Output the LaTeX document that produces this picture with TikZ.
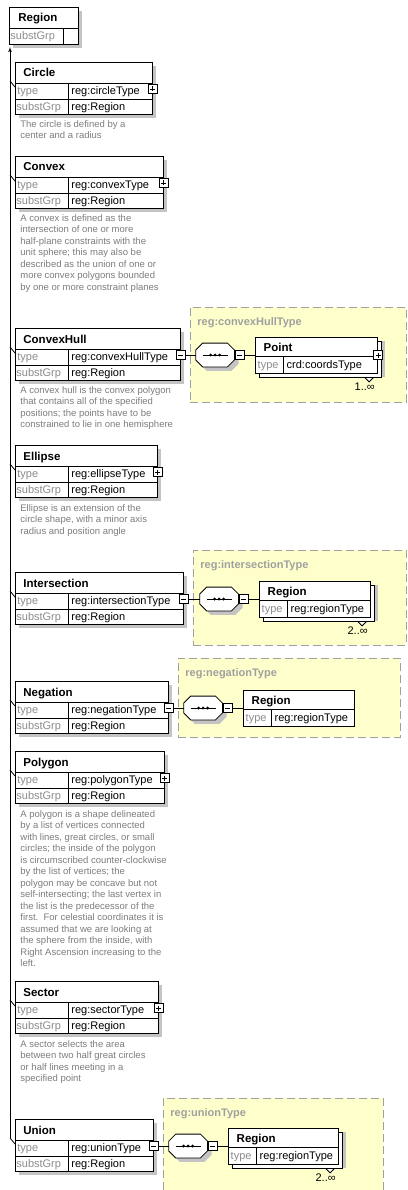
\documentclass[tikz,border=0pt]{standalone}
\usepackage{fontspec}
\setmainfont{Liberation Sans}
\usetikzlibrary{positioning}
\usetikzlibrary{arrows}
\definecolor{keygray}{HTML}{8C8C8C}
\definecolor{descgray}{HTML}{7C7C7C}
\definecolor{shadegray}{HTML}{C4C4C4}
\definecolor{grpyellow}{HTML}{FFFFCC}
\definecolor{grpgray}{HTML}{A0A0A0}
\tikzstyle{elembox} = [draw, rectangle, fill=white, anchor=north west, inner sep=0, minimum height=52]
\tikzstyle{kidbox} = [draw, rectangle, fill=white, anchor=west, inner sep=0, minimum height=36]
\tikzstyle{boxtitle} = [anchor=base west, inner sep=0, font=\fontsize{11.5}{13}\selectfont\bfseries]
\tikzstyle{rowkey} = [anchor=base west, inner sep=0, text=keygray, font=\fontsize{11}{13}\selectfont]
\tikzstyle{rowval} = [anchor=base west, inner sep=0, font=\fontsize{11}{13}\selectfont]
\tikzstyle{descr} = [align=left, inner sep=0, text=descgray, font=\fontsize{9.5}{11.5}\selectfont]
\tikzstyle{grpbox} = [draw=grpgray, fill=grpyellow, dash pattern=on 8pt off 4pt, anchor=north west, inner sep=0]
\tikzstyle{grplabel} = [anchor=base west, inner sep=0, text=grpgray, font=\fontsize{11}{13}\selectfont\bfseries]
\tikzstyle{multlabel} = [anchor=base east, inner sep=0, font=\fontsize{11}{13}\selectfont]
\tikzstyle{minusbox} = [draw, fill=white, minimum size=9, inner sep=0, path picture={
    \draw ([xshift=2pt]path picture bounding box.west) -- ([xshift=-2pt]path picture bounding box.east);}]
\tikzstyle{plusbox} = [draw, fill=white, minimum size=9, inner sep=0, path picture={
    \draw ([xshift=2pt]path picture bounding box.west) -- ([xshift=-2pt]path picture bounding box.east);
    \draw ([yshift=-2pt]path picture bounding box.north) -- ([yshift=2pt]path picture bounding box.south);}]
\tikzstyle{seqbox} = [rectangle, inner sep=0, minimum width=38, minimum height=23]
\tikzstyle{seqshade} = [fill=shadegray, transform canvas={shift={(4pt,-4pt)}}]
\tikzstyle{seqline} = [draw, fill=white]

% element of the substitution group: id, title, top, width, type, sign
\newcommand{\regelem}[6]{%
  \fill[shadegray] (19,#3+4) rectangle ++(#4,52);
  \node[elembox, minimum width=#4] (#1) at (15,#3) {};
  \draw ([yshift=-21pt]#1.north west) coordinate (#1-a) -- ([yshift=-21pt]#1.north east);
  \draw ([yshift=-16pt]#1-a) coordinate (#1-b) -- ++(#4,0);
  \draw ([xshift=53pt]#1-a) -- ([xshift=53pt]#1.south west);
  \node[boxtitle] (#1-ttl) at ([xshift=8pt,yshift=-15pt]#1.north west) {#2};
  \node[rowkey] (#1-tk) at ([xshift=2pt,yshift=-11.5pt]#1-a) {type};
  \node[rowval] (#1-tv) at ([xshift=56pt,yshift=-11.5pt]#1-a) {#5};
  \node[rowkey] (#1-sk) at ([xshift=1pt,yshift=-11.5pt]#1-b) {substGrp};
  \node[rowval] (#1-sv) at ([xshift=56pt,yshift=-11.5pt]#1-b) {reg:Region};
  \node[#6] (#1-sgn) at ([yshift=-27pt]#1.north east) {};
  \path (#1-a) ++(-5,-2) coordinate (#1-j);
  \draw (#1-j) -- ([yshift=-4pt]#1-a);
}
% sequence compositor drawn round the node #1
\newcommand{\regseq}[1]{%
  \foreach \s in {seqshade, seqline}
    \path[\s] ([xshift=7pt]#1.north west) -- ([xshift=-7pt]#1.north east) -- ([yshift=-7pt]#1.north east)
      -- ([yshift=7pt]#1.south east) -- ([xshift=-7pt]#1.south east) -- ([xshift=7pt]#1.south west)
      -- ([yshift=7pt]#1.south west) -- ([yshift=-7pt]#1.north west) -- cycle;
  \draw[line width=1pt] ([xshift=7pt]#1.west) -- ([xshift=-7pt]#1.east);
  \foreach \d in {-4.5,0,4.5} \fill ([xshift=\d pt]#1.center) circle (1.6pt);
}
% child element of a type: id, title, type, width (west at #1-w)
\newcommand{\regkid}[4]{%
  \node[kidbox, minimum width=#4] (#1) at (#1-w) {};
  \draw ([yshift=-20pt]#1.north west) coordinate (#1-a) -- ([yshift=-20pt]#1.north east);
  \draw ([xshift=28pt]#1-a) -- ([xshift=28pt]#1.south west);
  \node[boxtitle] (#1-ttl) at ([xshift=8pt,yshift=-14.5pt]#1.north west) {#2};
  \node[rowkey] (#1-tk) at ([xshift=2pt,yshift=-12pt]#1-a) {type};
  \node[rowval] (#1-tv) at ([xshift=31pt,yshift=-12pt]#1-a) {#3};
}
% stacked copy behind a repeated child: id, width, occurrences
\newcommand{\regstack}[3]{%
  \fill[shadegray] (#1-w) ++(8,-14) rectangle ++(#2,36);
  \node[kidbox, minimum width=#2] (#1-bk) at ([shift={(4pt,-4pt)}]#1-w) {};
  \draw[fill=white] ([xshift=-17.5pt]#1-bk.south east) -- ++(4.5,4.5) -- ++(4.5,-4.5) -- cycle;
  \node[multlabel] (#1-m) at ([xshift=-7pt,yshift=-13pt]#1-bk.south east) {#3};
}

\begin{document}
\begin{tikzpicture}[x=1pt, y=-1pt, line width=0.8pt, >=latex']
    \useasboundingbox (0,0) rectangle (407,1190);

    % head of the group
    \fill[shadegray] (13,11) rectangle ++(69,37);
    \node[elembox, minimum width=69, minimum height=37] (region) at (9,7) {};
    \draw ([yshift=-21pt]region.north west) coordinate (region-a) -- ([yshift=-21pt]region.north east);
    \draw ([xshift=54pt]region-a) -- ([xshift=54pt]region.south west);
    \node[boxtitle] (region-ttl) at ([xshift=9pt,yshift=-15pt]region.north west) {Region};
    \node[rowkey] (region-sk) at ([xshift=1pt,yshift=-11.5pt]region-a) {substGrp};
    \coordinate (regtip) at (10,47);

    % members
    \regelem{circle}{Circle}{62}{137}{reg:circleType}{plusbox}
    \regelem{convex}{Convex}{156}{148}{reg:convexType}{plusbox}
    \regelem{hull}{ConvexHull}{328}{165}{reg:convexHullType}{minusbox}
    \regelem{ellipse}{Ellipse}{445}{142}{reg:ellipseType}{plusbox}
    \regelem{inter}{Intersection}{572}{168}{reg:intersectionType}{minusbox}
    \regelem{neg}{Negation}{681}{153}{reg:negationType}{minusbox}
    \regelem{poly}{Polygon}{751}{149}{reg:polygonType}{plusbox}
    \regelem{sector}{Sector}{981}{143}{reg:sectorType}{plusbox}
    \regelem{union}{Union}{1119}{138}{reg:unionType}{minusbox}

    \draw[->] (union-j) -- (regtip);

    \node[descr, below right=5pt and 5pt of circle.south west] (circle-d)
       {The circle is defined by a\\center and a radius};
    \node[descr, below right=5pt and 5pt of convex.south west] (convex-d)
       {A convex is defined as the\\intersection of one or more\\half-plane constraints with the\\unit sphere; this may also be\\described as the union of one or\\more convex polygons bounded\\by one or more constraint planes};
    \node[descr, below right=5pt and 5pt of hull.south west] (hull-d)
       {A convex hull is the convex polygon\\that contains all of the specified\\positions; the points have to be\\constrained to lie in one hemisphere};
    \node[descr, below right=6pt and 5pt of ellipse.south west] (ellipse-d)
       {Ellipse is an extension of the\\circle shape, with a minor axis\\radius and position angle};
    \node[descr, below right=6pt and 5pt of poly.south west] (poly-d)
       {A polygon is a shape delineated\\by a list of vertices connected\\with lines, great circles, or small\\circles; the inside of the polygon\\is circumscribed counter-clockwise\\by the list of vertices; the\\polygon may be concave but not\\self-intersecting; the last vertex in\\the list is the predecessor of the\\first.\ \ For celestial coordinates it is\\assumed that we are looking at\\the sphere from the inside, with\\Right Ascension increasing to the\\left.};
    \node[descr, below right=6pt and 5pt of sector.south west] (sector-d)
       {A sector selects the area\\between two half great circles\\or half lines meeting in a\\specified point};

    % reg:convexHullType
    \node[grpbox, minimum width=216, minimum height=95] (hullgrp) at (190,307) {};
    \node[grplabel] (hullgrp-l) at ([xshift=7pt,yshift=-18pt]hullgrp.north west) {reg:convexHullType};
    \node[seqbox, right=10pt of hull-sgn] (hullseq) {};
    \regseq{hullseq}
    \node[minusbox, right=0pt of hullseq] (hullseq-sgn) {};
    \coordinate[right=11pt of hullseq-sgn] (point-w);
    \regstack{point}{122}{1..∞}
    \regkid{point}{Point}{crd:coordsType}{122}
    \node[plusbox] (point-sgn) at (point.east) {};
    \draw (hull-sgn.east) -- (hullseq.west);
    \draw (hullseq-sgn.east) -- (point.west);

    % reg:intersectionType
    \node[grpbox, minimum width=213, minimum height=95] (intergrp) at (193,550) {};
    \node[grplabel] (intergrp-l) at ([xshift=7pt,yshift=-18pt]intergrp.north west) {reg:intersectionType};
    \node[seqbox, right=11pt of inter-sgn] (interseq) {};
    \regseq{interseq}
    \node[minusbox, right=0pt of interseq] (interseq-sgn) {};
    \coordinate[right=11pt of interseq-sgn] (interkid-w);
    \regstack{interkid}{111}{2..∞}
    \regkid{interkid}{Region}{reg:regionType}{111}
    \draw (inter-sgn.east) -- (interseq.west);
    \draw (interseq-sgn.east) -- (interkid.west);

    % reg:negationType
    \node[grpbox, minimum width=222, minimum height=79] (neggrp) at (178,658) {};
    \node[grplabel] (neggrp-l) at ([xshift=7pt,yshift=-18pt]neggrp.north west) {reg:negationType};
    \node[seqbox, right=10pt of neg-sgn] (negseq) {};
    \regseq{negseq}
    \node[minusbox, right=0pt of negseq] (negseq-sgn) {};
    \coordinate[right=11pt of negseq-sgn] (negkid-w);
    \regkid{negkid}{Region}{reg:regionType}{111}
    \draw (neg-sgn.east) -- (negseq.west);
    \draw (negseq-sgn.east) -- (negkid.west);

    % reg:unionType
    \node[grpbox, minimum width=220, minimum height=100] (uniongrp) at (163,1098) {};
    \node[grplabel] (uniongrp-l) at ([xshift=7pt,yshift=-18pt]uniongrp.north west) {reg:unionType};
    \node[seqbox, right=10pt of union-sgn] (unionseq) {};
    \regseq{unionseq}
    \node[minusbox, right=0pt of unionseq] (unionseq-sgn) {};
    \coordinate[right=11pt of unionseq-sgn] (unionkid-w);
    \regstack{unionkid}{110}{2..∞}
    \regkid{unionkid}{Region}{reg:regionType}{110}
    \draw (union-sgn.east) -- (unionseq.west);
    \draw (unionseq-sgn.east) -- (unionkid.west);
\end{tikzpicture}
\end{document}
